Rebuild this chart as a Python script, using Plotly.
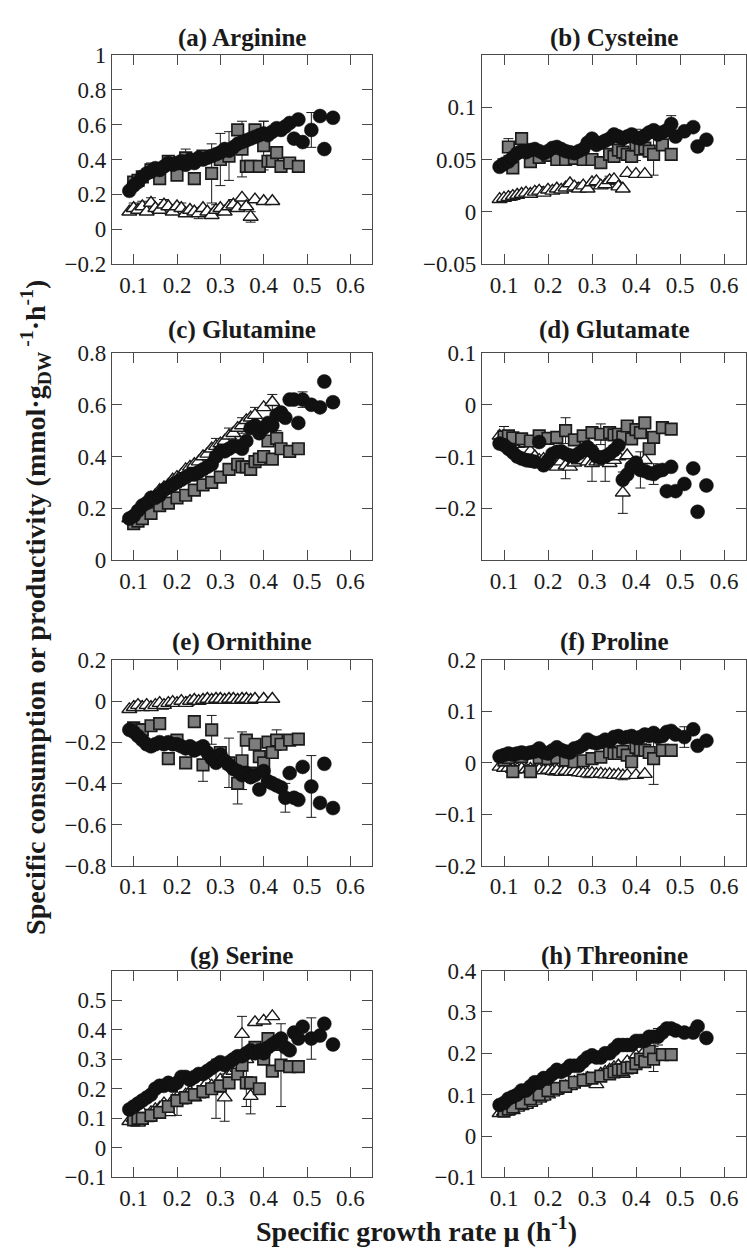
import plotly.graph_objects as go

W, H = 747, 1259

# ---------------- shared x values (specific growth rate, h^-1) ----------------
circ_x = [0.09, 0.10, 0.11, 0.12, 0.13, 0.14, 0.15, 0.16, 0.17, 0.18, 0.19, 0.20, 0.21, 0.22, 0.23,
          0.24, 0.25, 0.26, 0.27, 0.28, 0.29, 0.30, 0.31, 0.32, 0.33, 0.34, 0.35, 0.36, 0.37, 0.38,
          0.39, 0.40, 0.41, 0.42, 0.43, 0.44, 0.45, 0.46, 0.47, 0.48, 0.49, 0.51, 0.53, 0.54, 0.56]
sq_x = [0.10, 0.11, 0.12, 0.14, 0.16, 0.18, 0.20, 0.22, 0.24, 0.26, 0.28, 0.30, 0.32, 0.34, 0.35,
        0.36, 0.37, 0.38, 0.39, 0.40, 0.41, 0.42, 0.43, 0.44, 0.46, 0.48]
tri_x = [0.09, 0.10, 0.11, 0.12, 0.13, 0.14, 0.15, 0.16, 0.17, 0.18, 0.19, 0.20, 0.21, 0.22, 0.23,
         0.24, 0.25, 0.26, 0.27, 0.28, 0.29, 0.30, 0.31, 0.32, 0.33, 0.34, 0.35, 0.36, 0.37, 0.38,
         0.40, 0.42]

# ---------------- (a) Arginine ----------------
a_circ = [0.22, 0.25, 0.27, 0.30, 0.32, 0.33, 0.35, 0.34, 0.36, 0.38, 0.37, 0.38, 0.39, 0.37, 0.40,
          0.38, 0.41, 0.40, 0.41, 0.42, 0.43, 0.44, 0.46, 0.45, 0.47, 0.49, 0.50, 0.51, 0.52, 0.53,
          0.54, 0.55, 0.54, 0.56, 0.58, 0.57, 0.59, 0.61, 0.52, 0.63, 0.50, 0.57, 0.65, 0.46, 0.64]
a_sq = [0.27, 0.28, 0.30, 0.34, 0.29, 0.39, 0.31, 0.41, 0.29, 0.42, 0.32, 0.40, 0.42, 0.57, 0.46,
        0.36, 0.36, 0.57, 0.36, 0.48, 0.39, 0.39, 0.44, 0.36, 0.38, 0.36]
a_tri = [0.10, 0.12, 0.11, 0.13, 0.10, 0.15, 0.12, 0.11, 0.14, 0.13, 0.10, 0.13, 0.12, 0.09, 0.11,
         0.10, 0.09, 0.12, 0.10, 0.08, 0.11, 0.12, 0.10, 0.13, 0.14, 0.12, 0.18, 0.13, 0.07, 0.17,
         0.16, 0.16]

# ---------------- (b) Cysteine ----------------
b_circ = [0.043, 0.046, 0.048, 0.052, 0.056, 0.058, 0.057, 0.059, 0.060, 0.058, 0.056, 0.058, 0.061,
          0.062, 0.060, 0.058, 0.057, 0.056, 0.058, 0.060, 0.066, 0.070, 0.064, 0.066, 0.068, 0.070,
          0.074, 0.072, 0.070, 0.072, 0.074, 0.071, 0.070, 0.073, 0.076, 0.078, 0.074, 0.076, 0.078,
          0.084, 0.072, 0.077, 0.081, 0.0625, 0.069]
b_sq = [0.045, 0.062, 0.042, 0.070, 0.048, 0.052, 0.054, 0.050, 0.050, 0.051, 0.050, 0.050, 0.047,
        0.055, 0.053, 0.059, 0.057, 0.055, 0.053, 0.064, 0.060, 0.061, 0.058, 0.055, 0.064, 0.055]
b_tri = [0.012, 0.013, 0.014, 0.015, 0.016, 0.017, 0.018, 0.017, 0.019, 0.020, 0.018, 0.021, 0.020,
         0.022, 0.021, 0.023, 0.027, 0.024, 0.022, 0.025, 0.022, 0.028, 0.029, 0.025, 0.026, 0.030,
         0.031, 0.024, 0.022, 0.037, 0.036, 0.036]

# ---------------- (c) Glutamine ----------------
c_circ = [0.16, 0.17, 0.19, 0.21, 0.22, 0.24, 0.24, 0.25, 0.27, 0.28, 0.29, 0.30, 0.31, 0.32, 0.33,
          0.33, 0.34, 0.35, 0.36, 0.37, 0.40, 0.42, 0.42, 0.43, 0.44, 0.44, 0.43, 0.46, 0.51, 0.52,
          0.49, 0.51, 0.53, 0.52, 0.56, 0.57, 0.55, 0.62, 0.62, 0.53, 0.62, 0.60, 0.59, 0.69, 0.61]
c_sq = [0.14, 0.15, 0.16, 0.18, 0.21, 0.22, 0.24, 0.25, 0.27, 0.29, 0.30, 0.32, 0.35, 0.37, 0.36,
        0.36, 0.35, 0.38, 0.39, 0.40, 0.46, 0.39, 0.47, 0.43, 0.42, 0.43]
c_tri = [0.16, 0.17, 0.19, 0.21, 0.22, 0.24, 0.25, 0.27, 0.28, 0.29, 0.31, 0.32, 0.33, 0.35, 0.36,
         0.37, 0.38, 0.40, 0.41, 0.43, 0.44, 0.45, 0.46, 0.48, 0.49, 0.51, 0.52, 0.54, 0.55, 0.56,
         0.59, 0.61]

# ---------------- (d) Glutamate ----------------
d_circ = [-0.075, -0.078, -0.085, -0.092, -0.100, -0.104, -0.107, -0.108, -0.110, -0.072, -0.117,
          -0.108, -0.095, -0.091, -0.090, -0.095, -0.098, -0.100, -0.094, -0.088, -0.082, -0.090,
          -0.100, -0.102, -0.100, -0.095, -0.088, -0.079, -0.145, -0.135, -0.120, -0.112, -0.126,
          -0.128, -0.132, -0.134, -0.128, -0.126, -0.167, -0.120, -0.167, -0.153, -0.123, -0.207,
          -0.156]
d_sq = [-0.062, -0.060, -0.064, -0.066, -0.070, -0.060, -0.065, -0.063, -0.050, -0.068, -0.060,
        -0.054, -0.057, -0.054, -0.058, -0.057, -0.062, -0.041, -0.066, -0.048, -0.054, -0.035,
        -0.085, -0.063, -0.044, -0.047]
d_tri = [-0.060, -0.062, -0.068, -0.072, -0.076, -0.072, -0.075, -0.090, -0.100, -0.107, -0.105,
         -0.110, -0.112, -0.120, -0.110, -0.118, -0.120, -0.112, -0.108, -0.107, -0.110, -0.113,
         -0.110, -0.110, -0.108, -0.113, -0.107, -0.100, -0.170, -0.098, -0.120, -0.107]

# ---------------- (e) Ornithine ----------------
e_circ = [-0.14, -0.15, -0.17, -0.19, -0.21, -0.22, -0.21, -0.20, -0.21, -0.20, -0.21, -0.21, -0.22,
          -0.23, -0.22, -0.24, -0.23, -0.22, -0.25, -0.28, -0.30, -0.26, -0.29, -0.31, -0.33, -0.34,
          -0.36, -0.35, -0.37, -0.36, -0.43, -0.34, -0.39, -0.40, -0.41, -0.42, -0.47, -0.35, -0.47,
          -0.48, -0.32, -0.415, -0.495, -0.305, -0.52]
e_sq = [-0.13, -0.14, -0.14, -0.12, -0.11, -0.28, -0.19, -0.30, -0.10, -0.31, -0.14, -0.25, -0.30,
        -0.40, -0.29, -0.19, -0.35, -0.21, -0.27, -0.30, -0.20, -0.25, -0.19, -0.21, -0.19, -0.185]
e_tri = [-0.04, -0.03, -0.02, -0.03, -0.02, -0.03, -0.02, -0.01, -0.02, -0.01, -0.005, -0.01, 0.0,
         -0.01, 0.0, 0.005, 0.0, 0.005, 0.01, 0.005, 0.01, 0.01, 0.005, 0.01, 0.01, 0.005, 0.01,
         0.01, 0.005, 0.01, 0.01, 0.01]

# ---------------- (f) Proline ----------------
f_circ = [0.012, 0.015, 0.018, 0.016, 0.018, 0.020, 0.018, 0.020, 0.022, 0.028, 0.020, 0.018, 0.024,
          0.030, 0.025, 0.022, 0.020, 0.028, 0.030, 0.035, 0.045, 0.040, 0.038, 0.040, 0.045, 0.042,
          0.050, 0.052, 0.048, 0.050, 0.052, 0.048, 0.050, 0.055, 0.052, 0.058, 0.050, 0.052, 0.060,
          0.062, 0.055, 0.050, 0.065, 0.033, 0.043]
f_sq = [0.005, 0.010, -0.017, 0.012, -0.017, 0.010, 0.008, 0.010, 0.005, 0.002, 0.004, 0.008, 0.011,
        0.021, 0.018, 0.018, 0.022, 0.015, 0.002, 0.030, 0.025, 0.024, 0.020, 0.008, 0.024, 0.024]
f_tri = [-0.008, -0.010, -0.010, -0.012, -0.012, -0.011, -0.013, -0.012, -0.014, -0.013, -0.015,
         -0.014, -0.016, -0.015, -0.018, -0.016, -0.018, -0.017, -0.019, -0.020, -0.021, -0.020,
         -0.022, -0.021, -0.023, -0.022, -0.024, -0.023, -0.025, -0.024, -0.024, -0.022]

# ---------------- (g) Serine ----------------
g_circ = [0.13, 0.14, 0.15, 0.16, 0.17, 0.18, 0.20, 0.21, 0.21, 0.22, 0.21, 0.22, 0.24, 0.24, 0.23,
          0.24, 0.25, 0.25, 0.26, 0.27, 0.28, 0.29, 0.28, 0.29, 0.30, 0.31, 0.31, 0.32, 0.33, 0.32,
          0.33, 0.32, 0.34, 0.35, 0.36, 0.37, 0.34, 0.33, 0.39, 0.37, 0.41, 0.37, 0.38, 0.42, 0.35]
g_sq = [0.095, 0.10, 0.10, 0.11, 0.12, 0.14, 0.16, 0.17, 0.18, 0.19, 0.20, 0.21, 0.22, 0.25, 0.28,
        0.22, 0.22, 0.34, 0.20, 0.30, 0.37, 0.26, 0.35, 0.28, 0.275, 0.275]
g_tri = [0.09, 0.10, 0.085, 0.12, 0.10, 0.12, 0.13, 0.135, 0.15, 0.12, 0.16, 0.17, 0.16, 0.18, 0.19,
         0.17, 0.18, 0.20, 0.22, 0.21, 0.20, 0.23, 0.17, 0.25, 0.26, 0.27, 0.385, 0.30, 0.175, 0.425,
         0.43, 0.445]

# ---------------- (h) Threonine ----------------
h_circ = [0.075, 0.08, 0.09, 0.095, 0.10, 0.11, 0.11, 0.12, 0.13, 0.13, 0.14, 0.14, 0.15, 0.16, 0.155,
          0.16, 0.17, 0.17, 0.17, 0.18, 0.19, 0.195, 0.19, 0.19, 0.20, 0.20, 0.21, 0.22, 0.22, 0.22,
          0.22, 0.23, 0.23, 0.23, 0.24, 0.24, 0.24, 0.25, 0.26, 0.26, 0.255, 0.25, 0.25, 0.265, 0.237]
h_sq = [0.06, 0.065, 0.07, 0.08, 0.09, 0.10, 0.11, 0.115, 0.12, 0.13, 0.135, 0.14, 0.145, 0.15, 0.155,
        0.16, 0.16, 0.165, 0.166, 0.175, 0.186, 0.18, 0.205, 0.186, 0.197, 0.197]
h_tri = [0.055, 0.058, 0.060, 0.062, 0.068, 0.072, 0.075, 0.08, 0.085, 0.09, 0.095, 0.10, 0.105, 0.11,
         0.115, 0.12, 0.12, 0.13, 0.13, 0.135, 0.14, 0.13, 0.125, 0.15, 0.155, 0.16, 0.166, 0.17, 0.15,
         0.18, 0.195, 0.205]

# ---------------- error bars (sparse: point index -> +/- value) ----------------
a_err = {"circ": {41: 0.10, 31: 0.07}, "sq": {3: 0.04, 7: 0.05, 10: 0.17, 11: 0.15, 12: 0.14, 14: 0.16, 19: 0.14},
         "tri": {1: 0.03, 3: 0.03, 5: 0.03, 8: 0.03, 12: 0.03, 16: 0.03, 20: 0.03, 24: 0.03, 28: 0.03}}
b_err = {"circ": {39: 0.008}, "sq": {1: 0.008, 19: 0.015, 23: 0.02}, "tri": {3: 0.004, 9: 0.004, 17: 0.004, 25: 0.004}}
c_err = {"circ": {40: 0.03}, "sq": {22: 0.03}, "tri": {20: 0.03, 23: 0.03, 26: 0.03, 29: 0.03, 31: 0.03}}
d_err = {"circ": {32: 0.035, 35: 0.02}, "sq": {8: 0.025, 12: 0.02},
         "tri": {1: 0.02, 7: 0.03, 15: 0.025, 21: 0.035, 24: 0.04, 28: 0.04}}
e_err = {"circ": {41: 0.15, 36: 0.07}, "sq": {9: 0.08, 10: 0.07, 12: 0.12, 13: 0.10, 14: 0.14, 22: 0.05},
         "tri": {2: 0.02, 8: 0.02, 14: 0.02, 20: 0.02}}
f_err = {"circ": {41: 0.02}, "sq": {23: 0.05}, "tri": {4: 0.008, 12: 0.008, 20: 0.008, 28: 0.008}}
g_err = {"circ": {41: 0.07}, "sq": {15: 0.08, 23: 0.14},
         "tri": {11: 0.06, 20: 0.10, 22: 0.08, 26: 0.06, 28: 0.06}}
h_err = {"circ": {36: 0.02}, "sq": {23: 0.03}, "tri": {10: 0.01, 20: 0.01}}

# ---------------- titles & ticks ----------------
titles = ["(a) Arginine", "(b) Cysteine", "(c) Glutamine", "(d) Glutamate",
          "(e) Ornithine", "(f) Proline", "(g) Serine", "(h) Threonine"]
x_ticks = [0.1, 0.2, 0.3, 0.4, 0.5, 0.6]
x_ticklabels = ["0.1", "0.2", "0.3", "0.4", "0.5", "0.6"]
y_ranges = [[-0.2, 1.0], [-0.05, 0.15], [0.0, 0.8], [-0.3, 0.1],
            [-0.8, 0.2], [-0.2, 0.2], [-0.1, 0.6], [-0.1, 0.4]]
y_ticks = [[-0.2, 0, 0.2, 0.4, 0.6, 0.8, 1.0], [-0.05, 0, 0.05, 0.1], [0, 0.2, 0.4, 0.6, 0.8],
           [-0.2, -0.1, 0, 0.1], [-0.8, -0.6, -0.4, -0.2, 0, 0.2], [-0.2, -0.1, 0, 0.1, 0.2],
           [-0.1, 0, 0.1, 0.2, 0.3, 0.4, 0.5], [-0.1, 0, 0.1, 0.2, 0.3, 0.4]]
y_ticklabels = [["\u22120.2", "0", "0.2", "0.4", "0.6", "0.8", "1"],
                ["\u22120.05", "0", "0.05", "0.1"],
                ["0", "0.2", "0.4", "0.6", "0.8"],
                ["\u22120.2", "\u22120.1", "0", "0.1"],
                ["\u22120.8", "\u22120.6", "\u22120.4", "\u22120.2", "0", "0.2"],
                ["\u22120.2", "\u22120.1", "0", "0.1", "0.2"],
                ["\u22120.1", "0", "0.1", "0.2", "0.3", "0.4", "0.5"],
                ["\u22120.1", "0", "0.1", "0.2", "0.3", "0.4"]]
x_title = "Specific growth rate \u03bc (h<sup>-1</sup>)"
y_title = "Specific consumption or productivity (mmol\u00b7g<sub>DW</sub><sup> -1</sup>\u00b7h<sup>-1</sup>)"

panels = [(a_circ, a_sq, a_tri, a_err), (b_circ, b_sq, b_tri, b_err),
          (c_circ, c_sq, c_tri, c_err), (d_circ, d_sq, d_tri, d_err),
          (e_circ, e_sq, e_tri, e_err), (f_circ, f_sq, f_tri, f_err),
          (g_circ, g_sq, g_tri, g_err), (h_circ, h_sq, h_tri, h_err)]

# ---------------- layout geometry (pixels) ----------------
col_px = [(112, 372), (482, 746)]
row_px = [(44, 257), (348, 559), (661, 871), (978, 1189)]
title_px = [27, 324, 643, 963]

FONT = "'Liberation Serif', 'Times New Roman', serif"
INK = "#1a1a1a"
FRAME = "#4a4a4a"

fig = go.Figure()
layout = dict(width=W, height=H, margin=dict(l=0, r=0, t=0, b=0),
              paper_bgcolor="white", plot_bgcolor="white", showlegend=False,
              font=dict(family=FONT, color=INK))
annotations = []

series_style = {
    "tri": dict(symbol="triangle-up", size=13, color="white", line=dict(color=INK, width=1.4)),
    "sq": dict(symbol="square", size=11.5, color="#7d7d7d", line=dict(color=INK, width=1.7)),
    "circ": dict(symbol="circle", size=14, color="#111111", line=dict(color="#111111", width=0.5)),
}
series_x = {"tri": tri_x, "sq": sq_x, "circ": circ_x}

for i, (pc, ps, pt, perr) in enumerate(panels):
    r, c = divmod(i, 2)
    xa = "x" if i == 0 else f"x{i+1}"
    ya = "y" if i == 0 else f"y{i+1}"
    ys = {"tri": pt, "sq": ps, "circ": pc}
    # error bars first (underneath markers)
    for key in ["tri", "sq", "circ"]:
        idx = sorted(perr[key].keys())
        if not idx:
            continue
        fig.add_trace(go.Scatter(
            x=[series_x[key][k] for k in idx], y=[ys[key][k] for k in idx],
            mode="markers", marker=dict(size=1, color="rgba(0,0,0,0)"),
            error_y=dict(type="data", array=[perr[key][k] for k in idx], symmetric=True,
                         color=INK, thickness=1, width=5),
            xaxis=xa, yaxis=ya, hoverinfo="skip"))
    for key in ["tri", "sq", "circ"]:
        fig.add_trace(go.Scatter(x=series_x[key], y=ys[key], mode="markers",
                                 marker=series_style[key], xaxis=xa, yaxis=ya))

    x0, x1 = col_px[c]
    y0, y1 = row_px[r]
    axcommon = dict(showline=True, linecolor=FRAME, linewidth=1.3, mirror="ticks",
                    ticks="inside", ticklen=10, tickwidth=1.3, tickcolor=FRAME,
                    showgrid=False, zeroline=False,
                    tickfont=dict(family=FONT, size=23, color=INK))
    layout["xaxis" if i == 0 else f"xaxis{i+1}"] = dict(
        domain=[x0 / W, x1 / W], range=[0.05, 0.65], anchor=ya,
        tickmode="array", tickvals=x_ticks, ticktext=x_ticklabels, **axcommon)
    layout["yaxis" if i == 0 else f"yaxis{i+1}"] = dict(
        domain=[1 - y1 / H, 1 - y0 / H], range=y_ranges[i], anchor=xa,
        tickmode="array", tickvals=y_ticks[i], ticktext=y_ticklabels[i], **axcommon)
    annotations.append(dict(text=f"<b>{titles[i]}</b>", x=(x0 + x1) / 2 / W, y=1 - title_px[r] / H,
                            xref="paper", yref="paper", xanchor="center", yanchor="middle",
                            showarrow=False, font=dict(family=FONT, size=25, color=INK)))

annotations.append(dict(text=f"<b>{x_title}</b>", x=416 / W, y=1 - 1242 / H, xref="paper", yref="paper",
                        xanchor="center", yanchor="middle", showarrow=False,
                        font=dict(family=FONT, size=28, color=INK)))
annotations.append(dict(text=f"<b>{y_title}</b>", x=36 / W, y=1 - 608 / H, xref="paper", yref="paper",
                        xanchor="center", yanchor="middle", textangle=-90, showarrow=False,
                        font=dict(family=FONT, size=28, color=INK)))
layout["annotations"] = annotations
fig.update_layout(**layout)
fig.write_html("out.html")
